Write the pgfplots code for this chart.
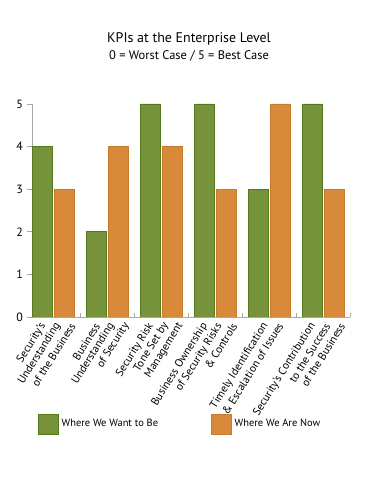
\documentclass[border=0pt]{standalone}
\usepackage{pgfplots}
\pgfplotsset{compat=1.18}
\usepackage{fontspec}
\setmainfont{PT Sans}
\definecolor{wantgreen}{HTML}{76933C}
\definecolor{wantedge}{HTML}{557A1C}
\definecolor{noworange}{HTML}{D88A3A}
\definecolor{nowedge}{HTML}{C77A2A}
\definecolor{axgray}{HTML}{A8A8A8}
\pgfplotsset{sqlegend/.style={legend image code/.code={\draw[##1] (0bp,-10bp) rectangle (20bp,10bp);}}}
\begin{document}
\begin{tikzpicture}[x=1bp,y=1bp]
\useasboundingbox (0,0) rectangle (371,480);
\node[anchor=base, font=\fontsize{14}{16}\selectfont, inner sep=0pt] at (189,437) {KPIs at the Enterprise Level};
\node[anchor=base, font=\fontsize{12.5}{14}\selectfont, inner sep=0pt] at (189,420) {0 = Worst Case / 5 = Best Case};
\begin{axis}[
  at={(32bp,163bp)}, anchor=south west,
  scale only axis, width=318bp, height=213bp,
  xmin=-0.398, xmax=5.5, ymin=0, ymax=5,
  ybar=2.5bp, bar width=19.5bp,
  axis x line=bottom, axis y line=left,
  axis line style={axgray, line width=0.8pt, -},
  ytick={0,1,2,3,4,5},
  tick align=outside, major tick length=5bp, minor tick length=4bp,
  ytick style={axgray, line width=0.8pt},
  yticklabel style={font=\fontsize{12}{14}\selectfont, inner sep=0pt, xshift=-4bp},
  /pgf/number format/assume math mode=true,
  xtick={-0.241,0.032,0.306, 0.759,1.032,1.306, 1.759,2.032,2.306, 2.759,3.032,3.306, 3.880,4.157, 4.759,5.032,5.306},
  xticklabels={Security’s,Understanding,of the Business,
    Business,Understanding,of Security,
    Security Risk,Tone Set by,Management,
    Business Ownership,of Security Risks,\& Controls,
    Timely Identification,\& Escalation of Issues,
    Security’s Contribution,to the Success,of the Business},
  major x tick style={draw=none},
  minor xtick={0.5,1.5,2.5,3.5,4.5,5.5},
  minor x tick style={axgray, line width=0.8pt, yshift=4bp},
  xticklabel style={rotate=58, anchor=east, inner sep=0pt, font=\fontsize{11.2}{12}\selectfont, yshift=-3.5bp},
  legend style={at={(axis description cs:0.019,-0.502)}, anchor=west, draw=none, fill=none,
    inner sep=0pt, outer sep=0pt, font=\fontsize{10.5}{12}\selectfont,
    nodes={inner sep=0pt, anchor=west},
    /tikz/every odd column/.append style={column sep=3bp},
    /tikz/every even column/.append style={column sep=53bp}},
  legend columns=2, legend cell align=left,
  sqlegend,
]
\addplot[fill=wantgreen, draw=wantedge, line width=0.6pt]
  coordinates {(0,4) (1,2) (2,5) (3,5) (4,3) (5,5)};
\addplot[fill=noworange, draw=nowedge, line width=0.6pt]
  coordinates {(0,3) (1,4) (2,4) (3,3) (4,5) (5,3)};
\legend{Where We Want to Be, Where We Are Now}
\end{axis}
\end{tikzpicture}
\end{document}
